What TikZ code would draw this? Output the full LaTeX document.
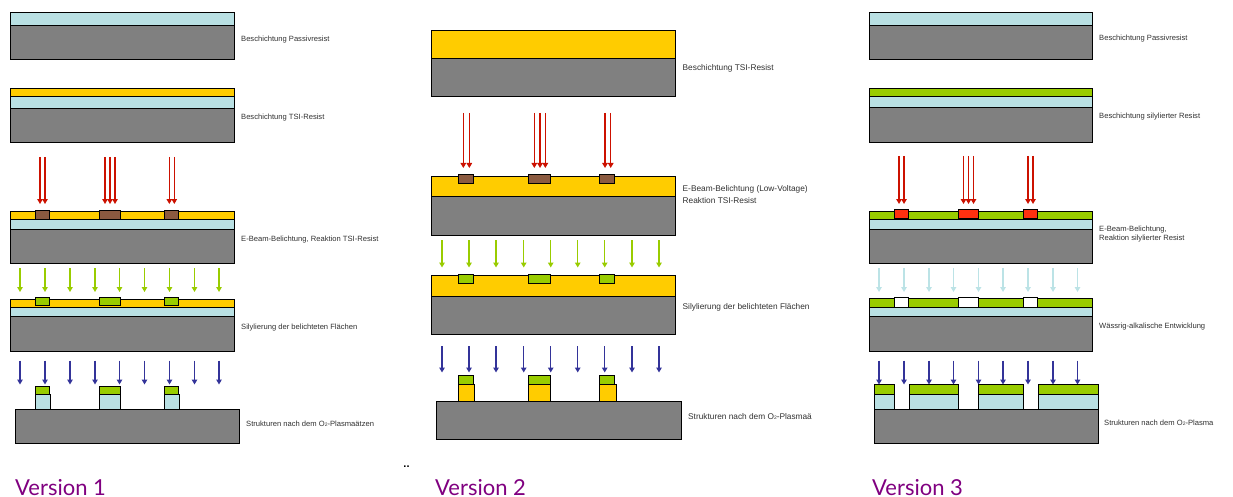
\documentclass[tikz,border=0pt]{standalone}
\usepackage{fontspec}
\setmainfont{Liberation Sans}
\newfontfamily\verfont{Lato}
\usetikzlibrary{arrows.meta}
\definecolor{cPass}{HTML}{B9E0E3}
\definecolor{cTsi}{HTML}{FFCC00}
\definecolor{cSub}{HTML}{808080}
\definecolor{cBrown}{HTML}{8B5A40}
\definecolor{cSil}{HTML}{99CC00}
\definecolor{cRedA}{HTML}{CC1100}
\definecolor{cRedI}{HTML}{FF3010}
\definecolor{cBlueA}{HTML}{333399}
\definecolor{cPale}{HTML}{BCE3E6}
\definecolor{cVer}{HTML}{800080}
\definecolor{cTxt}{HTML}{303030}
\tikzset{
  x=1pt,y=-1pt,
  layer/.style={draw=black,line width=0.8pt,fill=#1},
  shot/.style={draw=#1,line width=1.3pt,-{Triangle[length=5pt,width=5.5pt]}},
  smalllabel/.style={anchor=base west,inner sep=0pt,text=cTxt,font=\fontsize{7.6}{9.6}\selectfont,align=left},
  biglabel/.style={anchor=base west,inner sep=0pt,text=cTxt,font=\fontsize{8.3}{12}\selectfont,align=left},
  version/.style={anchor=base west,inner sep=0pt,text=cVer,font=\verfont\fontsize{22}{24}\selectfont},
}
\newcommand{\rc}[5]{\path[layer=#5] (#1,#2) rectangle (#3,#4);}
\newcommand{\shots}[4]{\foreach \xx in {#1} {\draw[shot=#4] (\xx,#2) -- (\xx,#3);}}
\newcommand{\otwo}{O\raisebox{-0.2pt}{\fontsize{5}{6}\selectfont 2}}
\begin{document}
\begin{tikzpicture}
\useasboundingbox (0,0) rectangle (1233,497);
% ---- Version 1
\rc{10}{25.5}{234}{59.5}{cSub}\rc{10}{12.5}{234}{25.5}{cPass}
\rc{10}{108}{234}{142}{cSub}\rc{10}{96.5}{234}{108}{cPass}\rc{10}{88.5}{234}{96.5}{cTsi}
\shots{40,45,105,110,115,169.3,174.3}{157}{204}{cRedA}
\rc{10}{229}{234}{263.7}{cSub}\rc{10}{219.5}{234}{229}{cPass}\rc{10}{211.5}{234}{219.5}{cTsi}
\rc{35.5}{210}{49}{219}{cBrown}\rc{99.5}{210}{120}{219}{cBrown}\rc{164.5}{210}{178}{219}{cBrown}
\shots{20,45,70,95,119.5,144.5,169.5,194.5,219}{268}{292}{cSil}
\rc{10}{316.5}{234}{351}{cSub}\rc{10}{307.5}{234}{316.5}{cPass}\rc{10}{299}{234}{307.5}{cTsi}
\rc{35.5}{297.5}{49}{305.5}{cSil}\rc{99.5}{297.5}{120}{305.5}{cSil}\rc{164.5}{297.5}{178}{305.5}{cSil}
\shots{20,45,70,95,119.5,144.5,169.5,194.5,219}{360.7}{384.5}{cBlueA}
\rc{15}{409}{239}{443}{cSub}
\rc{35.5}{394}{50.5}{409}{cPass}\rc{99.5}{394}{120}{409}{cPass}\rc{164.5}{394}{179.5}{409}{cPass}
\rc{35.5}{386}{49}{394}{cSil}\rc{99.5}{386}{120}{394}{cSil}\rc{164.5}{386}{178}{394}{cSil}
\node[smalllabel] (a1) at (241,41.5) {Beschichtung Passivresist};
\node[smalllabel] (a2) at (241,119.7) {Beschichtung TSI-Resist};
\node[smalllabel] (a3) at (241,241) {E-Beam-Belichtung, Reaktion TSI-Resist};
\node[smalllabel] (a4) at (241,329.5) {Silylierung der belichteten Flächen};
\node[smalllabel] (a5) at (246,426.5) {Strukturen nach dem \otwo-Plasmaätzen};
\node[version] (v1) at (15,495) {Version 1};
% ---- Version 2
\rc{431.3}{58}{675.7}{96.5}{cSub}\rc{431.3}{30.5}{675.7}{58}{cTsi}
\shots{463.3,469.3,534.3,540,545.3,605,610.7}{113}{168}{cRedA}
\rc{431.3}{196}{675.7}{235.5}{cSub}\rc{431.3}{176}{675.7}{196}{cTsi}
\rc{458.3}{174.5}{473.3}{183.5}{cBrown}\rc{528.7}{174.5}{550.5}{183.5}{cBrown}\rc{599.7}{174.5}{614.5}{183.5}{cBrown}
\shots{442,469,496,523.7,550.7,577.7,604.7,632,659}{240}{267.5}{cSil}
\rc{431.3}{296}{675.7}{334.5}{cSub}\rc{431.3}{275.7}{675.7}{296}{cTsi}
\rc{458.3}{274}{473.3}{283.5}{cSil}\rc{528.7}{274}{550.5}{283.5}{cSil}\rc{599.7}{274}{614.5}{283.5}{cSil}
\shots{442,469,496,523.7,550.7,577.7,604.7,632,659}{346}{372.5}{cBlueA}
\rc{436.7}{401.5}{681}{439.5}{cSub}
\rc{458.3}{384.5}{474.5}{401.5}{cTsi}\rc{528.7}{384.5}{550.5}{401.5}{cTsi}\rc{599.7}{384.5}{616}{401.5}{cTsi}
\rc{458.3}{375.5}{473.3}{384.5}{cSil}\rc{528.7}{375.5}{550.5}{384.5}{cSil}\rc{599.7}{375.5}{614.5}{384.5}{cSil}
\node[biglabel] (b1) at (682.5,70.7) {Beschichtung TSI-Resist};
\node[biglabel] (b2) at (682.5,203.7) {E-Beam-Belichtung (Low-Voltage)\\Reaktion TSI-Resist};
\node[biglabel] (b3) at (682.5,309) {Silylierung der belichteten Flächen};
\node[biglabel] (b4) at (688,419) {Strukturen nach dem \otwo-Plasmaä};
\node[anchor=base,inner sep=0pt,font=\bfseries\fontsize{11}{12}\selectfont] (dots) at (406.5,467) {..};
\node[version] (v2) at (435,495) {Version 2};
% ---- Version 3
\rc{869}{25}{1092.7}{59.5}{cSub}\rc{869}{12}{1092.7}{25}{cPass}
\rc{869}{107.5}{1092.7}{142}{cSub}\rc{869}{96.5}{1092.7}{107.5}{cPass}\rc{869}{88}{1092.7}{96.5}{cSil}
\shots{899,904,963.5,968.5,973.5,1028,1033}{156}{204}{cRedA}
\rc{869}{229}{1092.7}{263.5}{cSub}\rc{869}{219.5}{1092.7}{229}{cPass}\rc{869}{211.5}{1092.7}{219.5}{cSil}
\rc{894}{209.5}{908}{218}{cRedI}\rc{958.5}{209.5}{978.5}{218}{cRedI}\rc{1023}{209.5}{1037}{218}{cRedI}
\shots{879,904,929,953.5,978.5,1003,1028,1053,1077.5}{268}{292}{cPale}
\rc{869}{316.5}{1092.7}{351}{cSub}\rc{869}{307}{1092.7}{316.5}{cPass}\rc{869}{298.5}{1092.7}{307}{cSil}
\rc{894}{297}{908}{307}{white}\rc{958.5}{297}{978.5}{307}{white}\rc{1023}{297}{1037}{307}{white}
\shots{879,904,929,953.5,978.5,1003,1028,1053,1077.5}{360.5}{384.5}{cBlueA}
\rc{874}{409}{1098}{443}{cSub}
\rc{874}{394}{894}{409}{cPass}\rc{909}{394}{958.5}{409}{cPass}\rc{978.5}{394}{1023}{409}{cPass}\rc{1038}{394}{1098}{409}{cPass}
\rc{874}{384.7}{894}{394}{cSil}\rc{909}{384.7}{958.5}{394}{cSil}\rc{978.5}{384.7}{1023}{394}{cSil}\rc{1038}{384.7}{1098}{394}{cSil}
\node[smalllabel] (c1) at (1099,40.7) {Beschichtung Passivresist};
\node[smalllabel] (c2) at (1099,118.7) {Beschichtung silylierter Resist};
\node[smalllabel] (c3) at (1099,240.7) {E-Beam-Belichtung,\\Reaktion silylierter Resist};
\node[smalllabel] (c4) at (1099,328) {Wässrig-alkalische Entwicklung};
\node[smalllabel] (c5) at (1104,425) {Strukturen nach dem \otwo-Plasma};
\node[version] (v3) at (872,495) {Version 3};
\end{tikzpicture}
\end{document}
